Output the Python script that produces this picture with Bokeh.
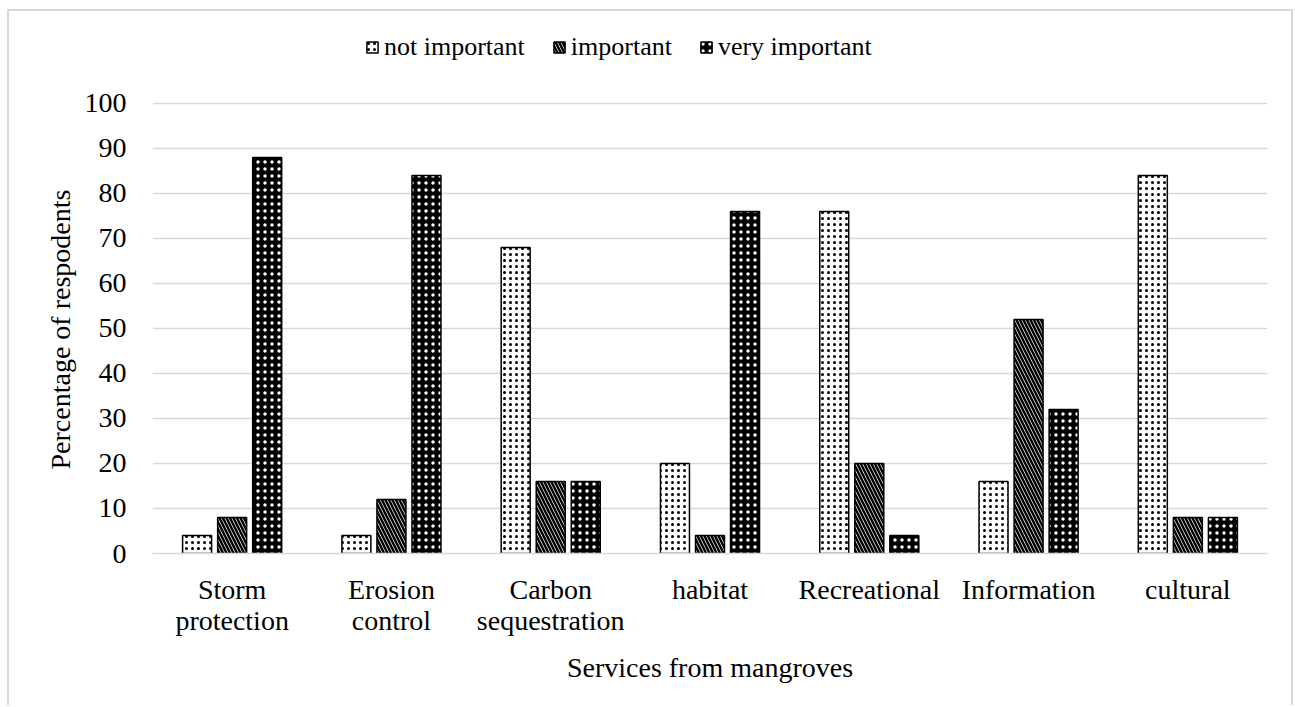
from bokeh.plotting import figure
from bokeh.models import ColumnDataSource, FactorRange, Range1d, Legend, LegendItem, Title
from bokeh.transform import dodge
from bokeh.embed import file_html
from bokeh.resources import INLINE

categories = ["Storm\nprotection", "Erosion\ncontrol", "Carbon\nsequestration", "habitat",
              "Recreational", "Information", "cultural"]
not_important = [4, 4, 68, 20, 76, 16, 84]
important = [8, 12, 16, 4, 20, 52, 8]
very_important = [88, 84, 16, 76, 4, 32, 8]
series_names = ["not important", "important", "very important"]
y_ticks = [0, 10, 20, 30, 40, 50, 60, 70, 80, 90, 100]

src = ColumnDataSource(dict(cat=categories, ni=not_important, im=important, vi=very_important))

FONT = "Liberation Serif"

# headroom above 100 holds the legend (gridlines stop at 100)
p = figure(x_range=FactorRange(*categories), y_range=Range1d(0, 116.2),
           width=1286, height=696, output_backend="svg", toolbar_location=None,
           min_border_left=143, min_border_right=28, min_border_top=19, min_border_bottom=154,
           margin=(9, 0, 0, 7))
p.styles = {"border-top": "2px solid #d9d9d9", "border-left": "2px solid #d9d9d9",
            "border-right": "2px solid #d9d9d9"}
p.outline_line_color = None

w = 0.182
off = 0.22
r1 = p.vbar(x=dodge("cat", -off, range=p.x_range), top="ni", width=w, source=src,
            fill_color="white", line_color="black", line_width=1.5,
            hatch_pattern="dot", hatch_color="black", hatch_scale=6, hatch_weight=3)
r2 = p.vbar(x=dodge("cat", 0, range=p.x_range), top="im", width=w, source=src,
            fill_color="white", line_color="black", line_width=1.5,
            hatch_pattern="left_diagonal_line", hatch_color="black", hatch_scale=7, hatch_weight=2.5)
r3 = p.vbar(x=dodge("cat", off, range=p.x_range), top="vi", width=w, source=src,
            fill_color="black", line_color="black", line_width=1.5,
            hatch_pattern="dot", hatch_color="white", hatch_scale=7, hatch_weight=1)

legend = Legend(items=[LegendItem(label=series_names[0], renderers=[r1]),
                       LegendItem(label=series_names[1], renderers=[r2]),
                       LegendItem(label=series_names[2], renderers=[r3])],
                orientation="horizontal", location=(213, 491),
                label_text_font=FONT, label_text_font_size="26px", label_text_color="black",
                glyph_width=14, glyph_height=14, spacing=27, label_standoff=5,
                border_line_color=None, background_fill_alpha=0, margin=0, padding=0)
p.add_layout(legend, "center")

p.xgrid.grid_line_color = None
p.ygrid.grid_line_color = "#d9d9d9"
p.ygrid.grid_line_width = 1.5
p.yaxis.ticker = y_ticks

p.yaxis.axis_line_color = None
p.yaxis.major_tick_line_color = None
p.yaxis.minor_tick_line_color = None
p.yaxis.major_label_text_font = FONT
p.yaxis.major_label_text_font_size = "28px"
p.yaxis.major_label_text_color = "black"
p.yaxis.major_label_standoff = 20

ytitle = Title(text="Percentage of respodents", align="left", offset=84, standoff=11,
               text_font=FONT, text_font_size="28px", text_font_style="normal",
               text_color="black")
p.add_layout(ytitle, "left")

p.xaxis.axis_line_color = "#d9d9d9"
p.xaxis.axis_line_width = 1.5
p.xaxis.major_tick_line_color = None
p.xaxis.minor_tick_line_color = None
p.xaxis.major_label_text_font = FONT
p.xaxis.major_label_text_font_size = "28px"
p.xaxis.major_label_text_color = "black"
p.xaxis.major_label_text_line_height = 1.0
p.xaxis.major_label_standoff = 14
p.xaxis.axis_label = "Services from mangroves"
p.xaxis.axis_label_text_font = FONT
p.xaxis.axis_label_text_font_size = "28px"
p.xaxis.axis_label_text_color = "black"
p.xaxis.axis_label_text_font_style = "normal"
p.xaxis.axis_label_standoff = 13

open("out.html", "w").write(file_html(p, INLINE))
